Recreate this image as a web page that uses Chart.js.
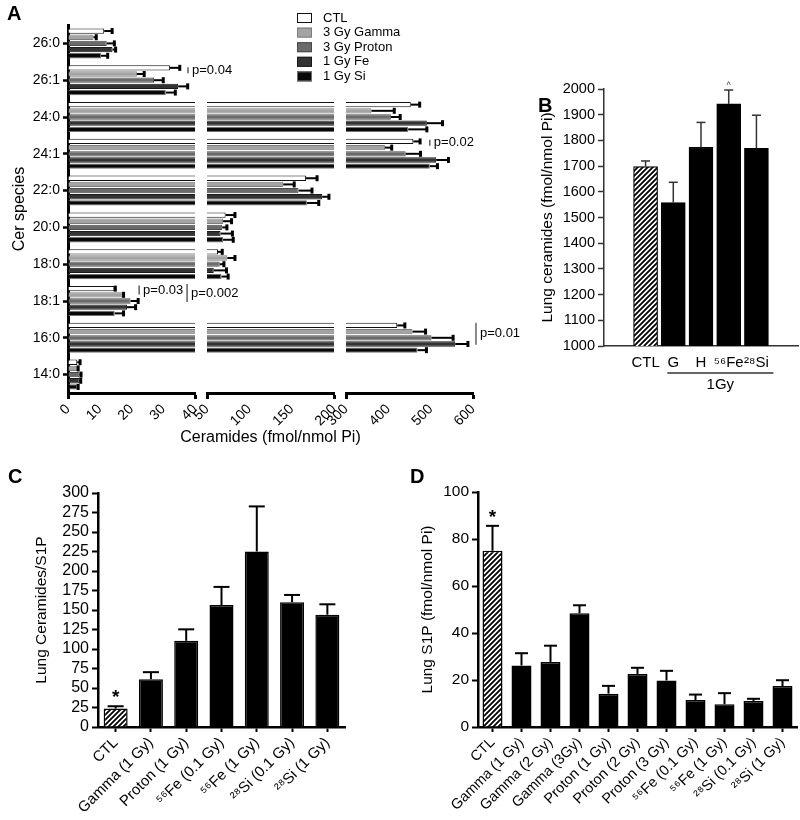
<!DOCTYPE html>
<html>
<head>
<meta charset="utf-8">
<script src="https://cdn.jsdelivr.net/npm/chart.js@4.4.1/dist/chart.umd.min.js"></script>
<style>
  body { margin: 0; background: #fff; }
  #fig { position: relative; width: 800px; height: 820px; font-family: 'Liberation Sans', Arial, sans-serif; }
  #fig canvas { position: absolute; }
  .tag { position: absolute; font-weight: bold; font-size: 20px; line-height: 20px; }
</style>
</head>
<body>
<div id="fig">
  <canvas id="a1" width="540" height="460" style="left:0;top:0"></canvas>
  <canvas id="a2" width="540" height="460" style="left:0;top:0"></canvas>
  <canvas id="a3" width="540" height="460" style="left:0;top:0"></canvas>
  <canvas id="chartB" width="320" height="340" style="left:480px;top:60px"></canvas>
  <canvas id="chartC" width="400" height="360" style="left:0;top:460px"></canvas>
  <canvas id="chartD" width="400" height="360" style="left:400px;top:460px"></canvas>
  <div class="tag" style="left:7px;top:3px">A</div>
  <div class="tag" style="left:538px;top:95px">B</div>
  <div class="tag" style="left:8px;top:466px">C</div>
  <div class="tag" style="left:410px;top:466px">D</div>
</div>
<script>
// ---- panel A: ceramide species (fmol/nmol Pi), mean and SEM
const cerSpecies = ['26:0', '26:1', '24:0', '24:1', '22:0', '20:0', '18:0', '18:1', '16:0', '14:0'];
const groupNames = ['CTL', '3 Gy Gamma', '3 Gy Proton', '1 Gy Fe', '1 Gy Si'];
const cerCTL    = [11.4, 32.1, 453, 459, 167, 72, 63, 14.6, 421, 2.9];
const cerGamma  = [8.0, 21.7, 360, 392, 140, 69, 74, 17.2, 457, 2.9];
const cerProton = [12.2, 27.1, 406, 441, 158, 68, 65, 19.7, 502, 3.6];
const cerFe     = [14.0, 34.7, 491, 513, 186, 66, 58, 18.6, 558, 3.6];
const cerSi     = [10.4, 30.8, 447, 498, 168, 69, 67, 14.7, 469, 2.9];
const semCTL    = [2.5, 3.1, 21, 16, 13, 11, 5, 0.3, 18, 0.9];
const semGamma  = [0.9, 2.3, 54, 16, 13, 10, 9, 0.3, 31, 0.3];
const semProton = [2.4, 2.9, 22, 35, 16, 5.5, 5, 2.4, 51, 0.5];
const semFe     = [1.0, 3.0, 37, 29, 8, 14, 15, 2.7, 30, 0.4];
const semSi     = [2.1, 3.0, 44, 18, 14, 12, 8, 2.8, 21, 0.3];
// broken x axis: [min, max, step]
const axisBreaks = [[0, 40, 10], [50, 200, 50], [300, 600, 100]];
const pNotes = [
  { text: 'p=0.04', cat: '26:1', seg: 0, at: 37.8 },
  { text: 'p=0.02', cat: '24:1', seg: 2, at: 498 },
  { text: 'p=0.03', cat: '18:1', seg: 0, at: 22.4 },
  { text: 'p=0.002', cat: '18:1', seg: 0, at: 37.5 },
  { text: 'p=0.01', cat: '16:0', seg: 2, at: 607 }
];

// ---- panel B: total lung ceramides
const totalCats = ['CTL', 'G', 'H', '\u2075\u2076Fe', '\u00b2\u2078Si'];
const totalCer  = [1698, 1558, 1773, 1942, 1769];
const totalSem  = [22, 79, 97, 54, 129];

// ---- panel C: ceramides / S1P
const ratioCats = ['CTL', 'Gamma (1 Gy)', 'Proton (1 Gy)', '\u2075\u2076Fe (0.1 Gy)', '\u2075\u2076Fe (1 Gy)', '\u00b2\u2078Si (0.1 Gy)', '\u00b2\u2078Si (1 Gy)'];
const ratioVals = [23.6, 61.3, 110.5, 156.4, 225, 159.9, 144];
const ratioSem  = [3.0, 9.0, 14.7, 23.2, 57.8, 9.4, 13.3];

// ---- panel D: lung S1P
const s1pCats = ['CTL', 'Gamma (1 Gy)', 'Gamma (2 Gy)', 'Gamma (3Gy)', 'Proton (1 Gy)', 'Proton (2 Gy)', 'Proton (3 Gy)', '\u2075\u2076Fe (0.1 Gy)', '\u2075\u2076Fe (1 Gy)', '\u00b2\u2078Si (0.1 Gy)', '\u00b2\u2078Si (1 Gy)'];
const s1pVals = [75, 26.2, 27.7, 48.4, 14.2, 22.6, 19.8, 11.5, 9.7, 11.1, 17.4];
const s1pSem  = [10.6, 5.2, 6.9, 3.4, 3.3, 2.6, 4.1, 2.3, 4.7, 0.9, 2.5];

Chart.defaults.font.family = "'Liberation Sans', Arial, Helvetica, sans-serif";
Chart.defaults.color = '#000';
Chart.defaults.animation = false;
Chart.defaults.plugins.legend.display = false;
Chart.defaults.plugins.tooltip.enabled = false;

// diagonal hatch for the control bars
function makeHatch() {
  const c = document.createElement('canvas');
  c.width = c.height = 5;
  const g = c.getContext('2d');
  g.fillStyle = '#fff';
  g.fillRect(0, 0, 5, 5);
  g.strokeStyle = '#000';
  g.lineWidth = 1.8;
  g.beginPath();
  g.moveTo(-1, 6); g.lineTo(6, -1);
  g.moveTo(-3.5, 3.5); g.lineTo(3.5, -3.5);
  g.moveTo(1.5, 8.5); g.lineTo(8.5, 1.5);
  g.stroke();
  return g.createPattern(c, 'repeat');
}
const hatch = makeHatch();

// SEM whiskers (upper side only)
const errorBars = {
  id: 'errorBars',
  afterDatasetsDraw(chart, args, o) {
    const ctx = chart.ctx;
    const horiz = chart.options.indexAxis === 'y';
    const vs = horiz ? chart.scales.x : chart.scales.y;
    chart.data.datasets.forEach((ds, di) => {
      if (!ds.errors) return;
      const meta = chart.getDatasetMeta(di);
      meta.data.forEach((bar, i) => {
        const v = meta.controller.getParsed(i)[vs.axis];
        if (v < vs.min || v > vs.max) return;
        const a = vs.getPixelForValue(v), b = vs.getPixelForValue(v + ds.errors[i]);
        const m = horiz ? bar.y : bar.x;
        ctx.save();
        ctx.strokeStyle = o.color;
        ctx.fillStyle = o.color;
        ctx.lineWidth = o.width;
        ctx.beginPath();
        if (horiz) { ctx.moveTo(a, m); ctx.lineTo(b, m); }
        else { ctx.moveTo(m, a); ctx.lineTo(m, b); }
        ctx.stroke();
        if (horiz) ctx.fillRect(b - o.capW / 2, m - o.cap / 2, o.capW, o.cap);
        else ctx.fillRect(m - o.cap / 2, b - o.capW / 2, o.cap, o.capW);
        ctx.restore();
      });
    });
  }
};

// significance marks above whiskers
const stars = {
  id: 'stars',
  afterDatasetsDraw(chart, args, o) {
    if (!o.items) return;
    const ctx = chart.ctx, ds = chart.data.datasets[0], meta = chart.getDatasetMeta(0), ys = chart.scales.y;
    o.items.forEach(s => {
      const v = meta.controller.getParsed(s.index).y + ds.errors[s.index];
      ctx.save();
      ctx.font = s.font;
      ctx.fillStyle = s.color || '#000';
      ctx.textAlign = 'center';
      ctx.textBaseline = 'alphabetic';
      ctx.fillText(s.text, meta.data[s.index].x, ys.getPixelForValue(v) - s.gap);
      ctx.restore();
    });
  }
};

// legend boxes, p-value notes and the shared axis title for panel A
const panelA = {
  id: 'panelA',
  afterDraw(chart, args, o) {
    const ctx = chart.ctx, xs = chart.scales.x, ys = chart.scales.y;
    const font = "13px 'Liberation Sans', Arial, sans-serif";
    ctx.save();
    if (o.legend) {
      chart.data.datasets.forEach((ds, i) => {
        const y = o.legend.y + i * o.legend.row;
        ctx.fillStyle = ds.backgroundColor;
        ctx.fillRect(o.legend.x, y - 5, 15, 10);
        ctx.strokeStyle = ds.borderColor;
        ctx.lineWidth = 1;
        ctx.strokeRect(o.legend.x + 0.5, y - 4.5, 14, 9);
        ctx.fillStyle = '#000';
        ctx.font = font;
        ctx.textBaseline = 'middle';
        ctx.fillText(ds.label, o.legend.x + 26, y);
      });
    }
    if (o.title) {
      ctx.fillStyle = '#000';
      ctx.font = "16px 'Liberation Sans', Arial, sans-serif";
      ctx.textAlign = 'center';
      ctx.textBaseline = 'middle';
      ctx.fillText(o.title, (chart.chartArea.left + chart.chartArea.right) / 2, chart.chartArea.bottom + 45);
      ctx.textAlign = 'left';
    }
    const shift = { 'p=0.04': [-10, 6], 'p=0.02': [-11, 6], 'p=0.03': [-11, 9], 'p=0.002': [-8, 18], 'p=0.01': [-4, 22] };
    pNotes.filter(n => n.seg === o.seg).forEach(n => {
      const x = xs.getPixelForValue(n.at);
      const [dy, len] = shift[n.text];
      const y = ys.getPixelForValue(cerSpecies.indexOf(n.cat)) + dy;
      ctx.strokeStyle = n.text === 'p=0.01' ? '#888' : '#444';
      ctx.lineWidth = n.text === 'p=0.01' ? 2 : 1.3;
      ctx.beginPath();
      ctx.moveTo(x, y - len / 2);
      ctx.lineTo(x, y + len / 2);
      ctx.stroke();
      ctx.fillStyle = '#000';
      ctx.font = font;
      ctx.textBaseline = 'middle';
      ctx.fillText(n.text, x + 4, y);
    });
    ctx.restore();
  }
};

// "1Gy" group bracket under panel B
const bracket = {
  id: 'bracket',
  afterDraw(chart, args, o) {
    if (!o.text) return;
    const ctx = chart.ctx, xs = chart.scales.x;
    const y = chart.chartArea.bottom + o.dy;
    const x0 = xs.getPixelForValue(o.from) - o.padL, x1 = xs.getPixelForValue(o.to) + o.padR;
    ctx.save();
    ctx.strokeStyle = '#333';
    ctx.lineWidth = 1.3;
    ctx.beginPath();
    ctx.moveTo(x0, y); ctx.lineTo(x1, y);
    ctx.stroke();
    ctx.fillStyle = '#000';
    ctx.font = "15px 'Liberation Sans', Arial, sans-serif";
    ctx.textAlign = 'center';
    ctx.textBaseline = 'top';
    ctx.fillText(o.text, (x0 + x1) / 2, y + 4);
    ctx.restore();
  }
};

// ---- panel A, three pieces of the broken axis
const groupVals = [cerCTL, cerGamma, cerProton, cerFe, cerSi];
const groupSem = [semCTL, semGamma, semProton, semFe, semSi];
const groupFill = ['#ffffff', '#a3a3a3', '#6b6b6b', '#333333', '#080808'];
const groupEdge = ['#111111', '#7d7d7d', '#4a4a4a', '#1a1a1a', '#707070'];
const segPad = [[0, 345], [207, 206], [346, 67]];

function segChart(id, k) {
  const [lo, hi, step] = axisBreaks[k];
  return new Chart(document.getElementById(id), {
    type: 'bar',
    data: {
      labels: cerSpecies,
      datasets: groupNames.map((name, g) => ({
        label: name,
        data: groupVals[g],
        errors: groupSem[g],
        backgroundColor: groupFill[g],
        borderColor: groupEdge[g],
        borderWidth: 1,
        categoryPercentage: 0.84,
        barPercentage: 0.86
      }))
    },
    options: {
      indexAxis: 'y',
      responsive: false,
      layout: { padding: { left: segPad[k][0], right: segPad[k][1], top: 25, bottom: 0 } },
      plugins: {
        errorBars: { color: '#000', width: 2, cap: 6, capW: 3 },
        panelA: {
          seg: k,
          legend: k === 0 ? { x: 297, y: 18, row: 14.6 } : null,
          title: k === 1 ? 'Ceramides (fmol/nmol Pi)' : null
        }
      },
      scales: {
        x: {
          type: 'linear', min: lo, max: hi,
          ticks: { stepSize: step, autoSkip: false, minRotation: 45, maxRotation: 45, font: { size: 14 }, padding: 2 },
          grid: {
            drawOnChartArea: false, tickLength: 6, tickWidth: 3,
            tickColor: c => (c.tick && (c.tick.value === lo || c.tick.value === hi)) ? '#000' : 'rgba(0,0,0,0)'
          },
          border: { color: '#000', width: 3 },
          afterFit: s => { s.height = 67; }
        },
        y: {
          display: k === 0,
          ticks: { font: { size: 14 }, padding: 3, autoSkip: false },
          grid: { drawOnChartArea: false, offset: false, tickLength: 5, tickWidth: 2.5, tickColor: '#000' },
          border: { color: '#000', width: 3 },
          title: { display: true, text: 'Cer species', font: { size: 16 }, padding: { top: 10, bottom: 0 } },
          afterFit: s => { s.width = k === 0 ? 68 : 0; }
        }
      }
    },
    plugins: [errorBars, panelA]
  });
}
segChart('a1', 0);
segChart('a2', 1);
segChart('a3', 2);

// ---- panel B
new Chart(document.getElementById('chartB'), {
  type: 'bar',
  data: {
    datasets: [{
      data: totalCer.map((v, i) => ({ x: i, y: v })),
      errors: totalSem,
      backgroundColor: totalCats.map((c, i) => i === 0 ? hatch : '#000'),
      borderColor: '#000',
      borderWidth: 1.2,
      barThickness: 24
    }]
  },
  options: {
    responsive: false,
    layout: { padding: { left: 58, top: 29, right: 2, bottom: 0 } },
    plugins: {
      errorBars: { color: '#333', width: 1.5, cap: 9, capW: 1.5 },
      stars: { items: [{ index: 3, text: '^', font: "9px 'Liberation Sans', Arial, sans-serif", gap: 2, color: '#333' }] },
      bracket: { text: '1Gy', from: 1, to: 4, dy: 27, padL: 6, padR: 17 }
    },
    scales: {
      x: {
        type: 'linear', min: -1, max: 5,
        ticks: { stepSize: 1, autoSkip: false, maxRotation: 0, font: { size: 15 }, padding: 8, callback: v => totalCats[v] ?? '' },
        grid: { display: false, drawTicks: false },
        border: { color: '#333', width: 1.5 },
        afterFit: s => { s.height = 54; }
      },
      y: {
        min: 1000, max: 2000,
        ticks: { stepSize: 100, autoSkip: false, font: { size: 14.5 }, padding: 3, callback: v => String(v) },
        grid: { drawOnChartArea: false, tickLength: 6, tickWidth: 1.5, tickColor: '#333' },
        border: { color: '#333', width: 1.5 },
        title: { display: true, text: 'Lung ceramides (fmol/nmol Pi)', font: { size: 15.5 }, padding: { top: 0, bottom: 0 } },
        afterFit: s => { s.width = 66; }
      }
    }
  },
  plugins: [errorBars, stars, bracket]
});

// ---- panels C and D
function columnChart(id, cats, vals, sem, o) {
  return new Chart(document.getElementById(id), {
    type: 'bar',
    data: {
      labels: cats,
      datasets: [{
        data: vals,
        errors: sem,
        backgroundColor: cats.map((c, i) => i === 0 ? hatch : '#000'),
        borderColor: '#000',
        borderWidth: 1.5,
        categoryPercentage: 1,
        barPercentage: o.bar
      }]
    },
    options: {
      responsive: false,
      layout: { padding: o.pad },
      plugins: {
        errorBars: { color: '#000', width: 2, cap: o.cap, capW: 2 },
        stars: { items: [{ index: 0, text: '*', font: "bold 19px 'Liberation Sans', Arial, sans-serif", gap: 3 }] }
      },
      scales: {
        x: {
          ticks: { font: { size: o.xFont }, minRotation: 45, maxRotation: 45, padding: 2, autoSkip: false },
          grid: { drawOnChartArea: false, offset: false, tickLength: 5, tickWidth: 2, tickColor: '#000' },
          border: { color: '#000', width: 2.5 },
          afterFit: s => { s.height = 93; }
        },
        y: {
          min: 0, max: o.max,
          ticks: { stepSize: o.step, autoSkip: false, font: { size: o.yFont }, padding: 3 },
          grid: { drawOnChartArea: false, tickLength: 6, tickWidth: 2, tickColor: '#000' },
          border: { color: '#000', width: 2.5 },
          title: { display: true, text: o.title, font: { size: 15.5 }, padding: { top: 0, bottom: 0 } },
          afterFit: s => { s.width = o.yw; }
        }
      }
    },
    plugins: [errorBars, stars]
  });
}

columnChart('chartC', ratioCats, ratioVals, ratioSem, {
  bar: 0.68, cap: 16, xFont: 15, yFont: 16, max: 300, step: 25, yw: 66,
  title: 'Lung Ceramides/S1P', pad: { left: 32, top: 33, right: 55, bottom: 0 }
});
columnChart('chartD', s1pCats, s1pVals, s1pSem, {
  bar: 0.69, cap: 13, xFont: 14.5, yFont: 15.5, max: 100, step: 20, yw: 60,
  title: 'Lung S1P (fmol/nmol Pi)', pad: { left: 18, top: 32, right: 3, bottom: 0 }
});
</script>
</body>
</html>
